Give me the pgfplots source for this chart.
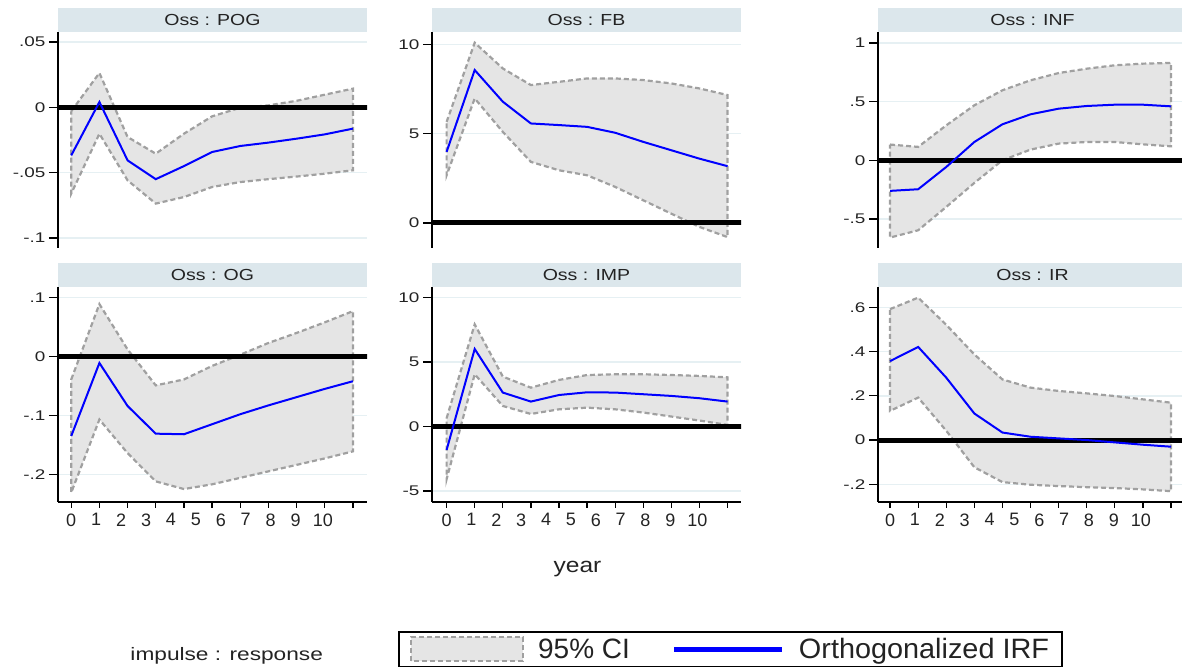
\documentclass[border=0pt]{standalone}
\usepackage{fontspec}
\setmainfont{Liberation Sans}
\usepackage{pgfplots}
\pgfplotsset{compat=1.18}
\usepackage{pgfplotstable}
\usepgfplotslibrary{fillbetween}

\definecolor{cifill}{RGB}{229,229,229}
\definecolor{cidraw}{RGB}{160,160,160}
\definecolor{gridc}{RGB}{230,240,243}
\definecolor{strip}{RGB}{220,231,236}
\definecolor{irf}{RGB}{0,0,255}
\definecolor{txt}{RGB}{35,35,35}

\newcommand{\sx}[1]{\scalebox{1.35}[1]{#1}}
\newcommand{\ttl}[1]{\scalebox{1.22}[1]{#1}}

\pgfplotstableread{
t irf lo hi
0 -0.0368 -0.0660 -0.0030
1 0.0041 -0.0202 0.0263
2 -0.0406 -0.0559 -0.0227
3 -0.0550 -0.0737 -0.0355
4 -0.0450 -0.0687 -0.0202
5 -0.0342 -0.0610 -0.0069
6 -0.0296 -0.0572 -0.0003
7 -0.0270 -0.0550 0.0015
8 -0.0240 -0.0530 0.0050
9 -0.0207 -0.0508 0.0097
10 -0.0163 -0.0482 0.0143
}\tpog

\pgfplotstableread{
t irf lo hi
0 3.98 2.67 5.66
1 8.56 6.97 10.09
2 6.79 5.10 8.65
3 5.57 3.42 7.72
4 5.48 2.95 7.90
5 5.38 2.67 8.09
6 5.05 2.02 8.09
7 4.54 1.27 8.00
8 4.07 0.52 7.81
9 3.60 -0.22 7.53
10 3.18 -0.79 7.16
}\tfb

\pgfplotstableread{
t irf lo hi
0 -0.261 -0.659 0.134
1 -0.247 -0.597 0.114
2 -0.057 -0.398 0.298
3 0.156 -0.193 0.469
4 0.307 0.000 0.597
5 0.392 0.091 0.682
6 0.440 0.142 0.744
7 0.463 0.156 0.781
8 0.474 0.156 0.810
9 0.474 0.136 0.824
10 0.460 0.119 0.830
}\tinf

\pgfplotstableread{
t irf lo hi
0 -0.135 -0.231 -0.039
1 -0.011 -0.107 0.089
2 -0.084 -0.164 0.012
3 -0.131 -0.212 -0.049
4 -0.132 -0.225 -0.039
5 -0.115 -0.217 -0.016
6 -0.098 -0.206 0.003
7 -0.083 -0.195 0.023
8 -0.069 -0.184 0.040
9 -0.055 -0.173 0.058
10 -0.042 -0.161 0.077
}\tog

\pgfplotstableread{
t irf lo hi
0 -1.81 -4.08 0.65
1 6.02 4.06 7.93
2 2.64 1.60 3.88
3 1.94 0.98 3.02
4 2.45 1.34 3.62
5 2.66 1.47 4.00
6 2.64 1.34 4.06
7 2.51 1.09 4.06
8 2.38 0.78 4.00
9 2.20 0.47 3.93
10 1.94 0.13 3.82
}\timp

\pgfplotstableread{
t irf lo hi
0 0.357 0.132 0.592
1 0.421 0.192 0.644
2 0.282 0.042 0.521
3 0.120 -0.123 0.387
4 0.034 -0.190 0.274
5 0.015 -0.202 0.237
6 0.0075 -0.208 0.222
7 0.000 -0.213 0.211
8 -0.0105 -0.217 0.199
9 -0.021 -0.223 0.184
10 -0.030 -0.231 0.169
}\tir

\newcommand{\irfplots}[2]{%
 \addplot[black, line width=5pt, forget plot] coordinates {(-1,0) (12,0)};
 \addplot[name path=hi#2, draw=none, forget plot] table[x=t,y=hi]{#1};
 \addplot[name path=lo#2, draw=none, forget plot] table[x=t,y=lo]{#1};
 \addplot[fill=cifill, draw=cidraw, line width=2.2pt, dash pattern=on 5pt off 3pt, forget plot] fill between[of=hi#2 and lo#2];
 \addplot[irf, line width=2pt, forget plot] table[x=t,y=irf]{#1};
}

\pgfplotsset{
 irfpanel/.style={
   scale only axis, width=309pt,
   xmin=-0.47, xmax=10.5,
   axis y line*=left,
   axis line style={-, line width=1.3pt, black},
   tick align=outside,
   ytick style={line width=1.3pt, black},
   major tick length=9pt,
   ymajorgrids, major grid style={gridc, line width=1.5pt},
   yticklabel style={font=\fontsize{14}{16}\selectfont, text=txt},
   every axis title/.style={at={(0.5,1)}, anchor=south, fill=strip, minimum width=309pt, minimum height=24pt, inner sep=0pt, font=\fontsize{16}{18}\selectfont, text=txt},
 },
 toprow/.style={irfpanel, height=216pt, axis x line=none},
 botrow/.style={irfpanel, height=215pt,
   axis x line*=bottom,
   xtick={0,...,10}, xticklabel={\relax},
   xtick style={line width=1.3pt, black, /pgfplots/major tick length=6pt},
   extra x ticks={0,0.885,1.77,2.655,3.54,4.425,5.31,6.195,7.08,7.965,8.93},
   extra x tick labels={0,1,2,3,4,5,6,7,8,9,10},
   extra x tick style={/pgfplots/major tick length=0pt, tick style={draw=none},
     xticklabel style={font=\fontsize{18}{20}\selectfont, text=txt, yshift=-8pt}},
 },
}

\begin{document}
\begin{tikzpicture}

% ---- top row
\begin{axis}[toprow, at={(58pt,423pt)}, anchor=south west,
  title={\ttl{Oss : POG}},
  ymin=-0.1077, ymax=0.0577,
  ytick={-0.1,-0.05,0,0.05}, yticklabels={\sx{-.1},\sx{-.05},\sx{0},\sx{.05}}]
\irfplots{\tpog}{a}
\end{axis}

\begin{axis}[toprow, at={(432pt,423pt)}, anchor=south west,
  xmin=-0.52, xmax=10.48,
  title={\ttl{Oss : FB}},
  ymin=-1.40, ymax=10.69,
  ytick={0,5,10}, yticklabels={\sx{0},\sx{5},\sx{10}}]
\irfplots{\tfb}{b}
\end{axis}

\begin{axis}[toprow, at={(878pt,423pt)}, anchor=south west,
  xmin=-0.43, xmax=10.57,
  title={\ttl{Oss : INF}},
  ymin=-0.748, ymax=1.094,
  ytick={-0.5,0,0.5,1}, yticklabels={\sx{-.5},\sx{0},\sx{.5},\sx{1}}]
\irfplots{\tinf}{c}
\end{axis}

% ---- bottom row
\begin{axis}[botrow, at={(58pt,169pt)}, anchor=south west,
  title={\ttl{Oss : OG}},
  ymin=-0.247, ymax=0.118,
  ytick={-0.2,-0.1,0,0.1}, yticklabels={\sx{-.2},\sx{-.1},\sx{0},\sx{.1}}]
\irfplots{\tog}{d}
\end{axis}

\begin{axis}[botrow, at={(432pt,169pt)}, anchor=south west,
  xmin=-0.52, xmax=10.48,
  title={\ttl{Oss : IMP}},
  ymin=-5.85, ymax=10.83,
  ytick={-5,0,5,10}, yticklabels={\sx{-5},\sx{0},\sx{5},\sx{10}},
  legend style={at={(0.966,-0.684)}, anchor=center, draw=black, line width=1.3pt, fill=white,
    font=\fontsize{28}{30}\selectfont, text=txt, inner xsep=11pt, inner ysep=4pt,
    legend columns=-1,
    /tikz/every odd column/.append style={column sep=12pt},
    /tikz/every even column/.append style={column sep=40pt}}]
\irfplots{\timp}{e}
\addlegendimage{legend image code/.code={\draw[fill=cifill, draw=cidraw, line width=2.2pt, dash pattern=on 5pt off 3pt] (0pt,-12pt) rectangle (112pt,12pt);}}
\addlegendentry{95\% CI}
\addlegendimage{legend image code/.code={\draw[irf, line width=5pt] (0pt,0pt) -- (108pt,0pt);}}
\addlegendentry{\scalebox{1.03}[1]{Orthogonalized IRF}}
\end{axis}

\begin{axis}[botrow, at={(878pt,169pt)}, anchor=south west,
  xmin=-0.43, xmax=10.57,
  title={\ttl{Oss : IR}},
  ymin=-0.28, ymax=0.692,
  ytick={-0.2,0,0.2,0.4,0.6}, yticklabels={\sx{-.2},\sx{0},\sx{.2},\sx{.4},\sx{.6}}]
\irfplots{\tir}{f}
\end{axis}

\node[anchor=base, font=\fontsize{21}{23}\selectfont, text=txt] at (577.5pt,98pt) {\scalebox{1.17}[1]{year}};
\node[anchor=base, font=\fontsize{18}{20}\selectfont, text=txt] at (226.7pt,10.3pt) {\scalebox{1.26}[1]{impulse : response}};

\pgfresetboundingbox
\path[use as bounding box] (0,0) rectangle (1182pt,671pt);
\end{tikzpicture}
\end{document}
